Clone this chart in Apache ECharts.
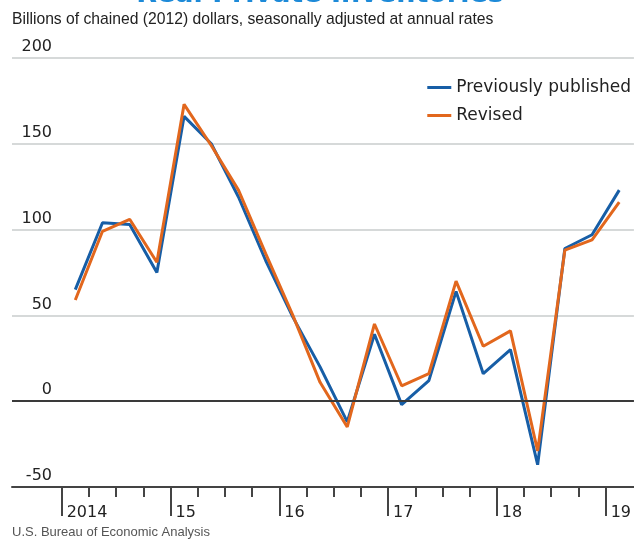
<!DOCTYPE html>
<html><head><meta charset="utf-8">
<script src="https://cdn.jsdelivr.net/npm/echarts@6/dist/echarts.min.js"></script>
<style>html,body{margin:0;padding:0;background:#fff}#c{width:634px;height:539px}</style>
</head><body><div id="c"></div>
<script>
// ---- data ----
const quarters = ['2014Q1','2014Q2','2014Q3','2014Q4','2015Q1','2015Q2','2015Q3','2015Q4',
  '2016Q1','2016Q2','2016Q3','2016Q4','2017Q1','2017Q2','2017Q3','2017Q4',
  '2018Q1','2018Q2','2018Q3','2018Q4','2019Q1'];
const previouslyPublished = [65,104,103,75,166,150,119,82,49,20,-12,39,-2,12,64,16,30,-37,89,97,123];
const revised = [59,99,106,81,173,149,123,86,50,11,-15,45,9,16,70,32,41,-29,88,94,116];
const yTicks = [-50,0,50,100,150,200];
const yearTicks = [2014,2015,2016,2017,2018,2019];
const yearLabels = ['2014','15','16','17','18','19'];
const seriesNames = ['Previously published','Revised'];
const titleText = 'Real Private Inventories';
const subtitleText = 'Billions of chained (2012) dollars, seasonally adjusted at annual rates';
const sourceText = 'U.S. Bureau of Economic Analysis';

// quarter label -> position on a continuous time axis (middle of quarter)
function qPos(q){ const y=+q.slice(0,4), n=+q.slice(5); return y + (n-0.5)/4; }
const quarterTicks = [];
yearTicks.forEach((y,i)=>{ if(i<yearTicks.length-1){ for(let k=0;k<4;k++) quarterTicks.push(y+k/4);} else quarterTicks.push(y); });
const blueData = quarters.map((q,i)=>[qPos(q), previouslyPublished[i]]);
const orangeData = quarters.map((q,i)=>[qPos(q), revised[i]]);

const BLUE = '#175ea6', ORANGE = '#e2671d';
const FONT = 'DejaVu Sans';
const xMin = 2013.5432, xMax = 2019.2601;

const chart = echarts.init(document.getElementById('c'), null, {renderer:'canvas'});
chart.setOption({
  animation: false,
  backgroundColor: '#fff',
  grid: {left: 12, right: 0, top: 58, bottom: 52, containLabel: false},
  legend: {
    data: seriesNames, orient: 'vertical', right: -2, top: 73, icon: 'rect',
    itemWidth: 24, itemHeight: 3, itemGap: 9,
    textStyle: {fontFamily: FONT, fontSize: 17, color: '#222', lineHeight: 19}
  },
  xAxis: [
    {type: 'value', min: xMin, max: xMax, position: 'bottom',
     axisLine: {show: true, onZero: false, lineStyle: {color: '#444', width: 2}},
     axisTick: {show: true, customValues: quarterTicks, length: 10, lineStyle: {color: '#444', width: 2}},
     axisLabel: {show: false}, splitLine: {show: false}},
    {type: 'value', min: xMin, max: xMax, position: 'bottom',
     axisLine: {show: false, onZero: false},
     axisTick: {show: true, customValues: yearTicks, length: 29, lineStyle: {color: '#444', width: 2}},
     axisLabel: {show: true, customValues: yearTicks, margin: 18, align: 'left', padding: [0,0,0,5],
       fontFamily: FONT, fontSize: 16, color: '#222',
       formatter: v => yearLabels[yearTicks.indexOf(Math.round(v))] || ''},
     splitLine: {show: false}}
  ],
  yAxis: {
    type: 'value', min: -50, max: 200, interval: 50,
    axisLine: {show: false}, axisTick: {show: false},
    axisLabel: {margin: -40, align: 'right', verticalAlign: 'bottom', padding: [0,0,3,0],
      fontFamily: FONT, fontSize: 16, color: '#222', lineHeight: 16,
      formatter: v => yTicks.includes(v) ? String(v) : ''},
    splitLine: {show: true, lineStyle: {color: '#c9cdcd', width: 1.5}}
  },
  series: [
    {name: seriesNames[0], type: 'line', data: blueData, xAxisIndex: 0, symbol: 'none',
     lineStyle: {color: BLUE, width: 3}, itemStyle: {color: BLUE}, z: 3,
     markLine: {silent: true, symbol: ['none','none'], label: {show: false},
       lineStyle: {color: '#3a3a3a', width: 2, type: 'solid'}, data: [{yAxis: 0}]}},
    {name: seriesNames[1], type: 'line', data: orangeData, xAxisIndex: 0, symbol: 'none',
     lineStyle: {color: ORANGE, width: 3}, itemStyle: {color: ORANGE}, z: 4}
  ],
  graphic: [
    {type: 'text', x: 320, y: 8, style: {text: titleText, align: 'center', verticalAlign: 'bottom', fontFamily: FONT, fontWeight: 'bold', fontSize: 27, fill: '#1d8ad8'}},
    {type: 'text', x: 12, y: 20, style: {text: subtitleText, verticalAlign: 'middle', fontFamily: 'Liberation Sans', fontSize: 15.7, fill: '#222'}},
    {type: 'text', x: 12, y: 532, style: {text: sourceText, verticalAlign: 'middle', fontFamily: 'Liberation Sans', fontSize: 13, fill: '#555'}}
  ]
});
</script></body></html>
